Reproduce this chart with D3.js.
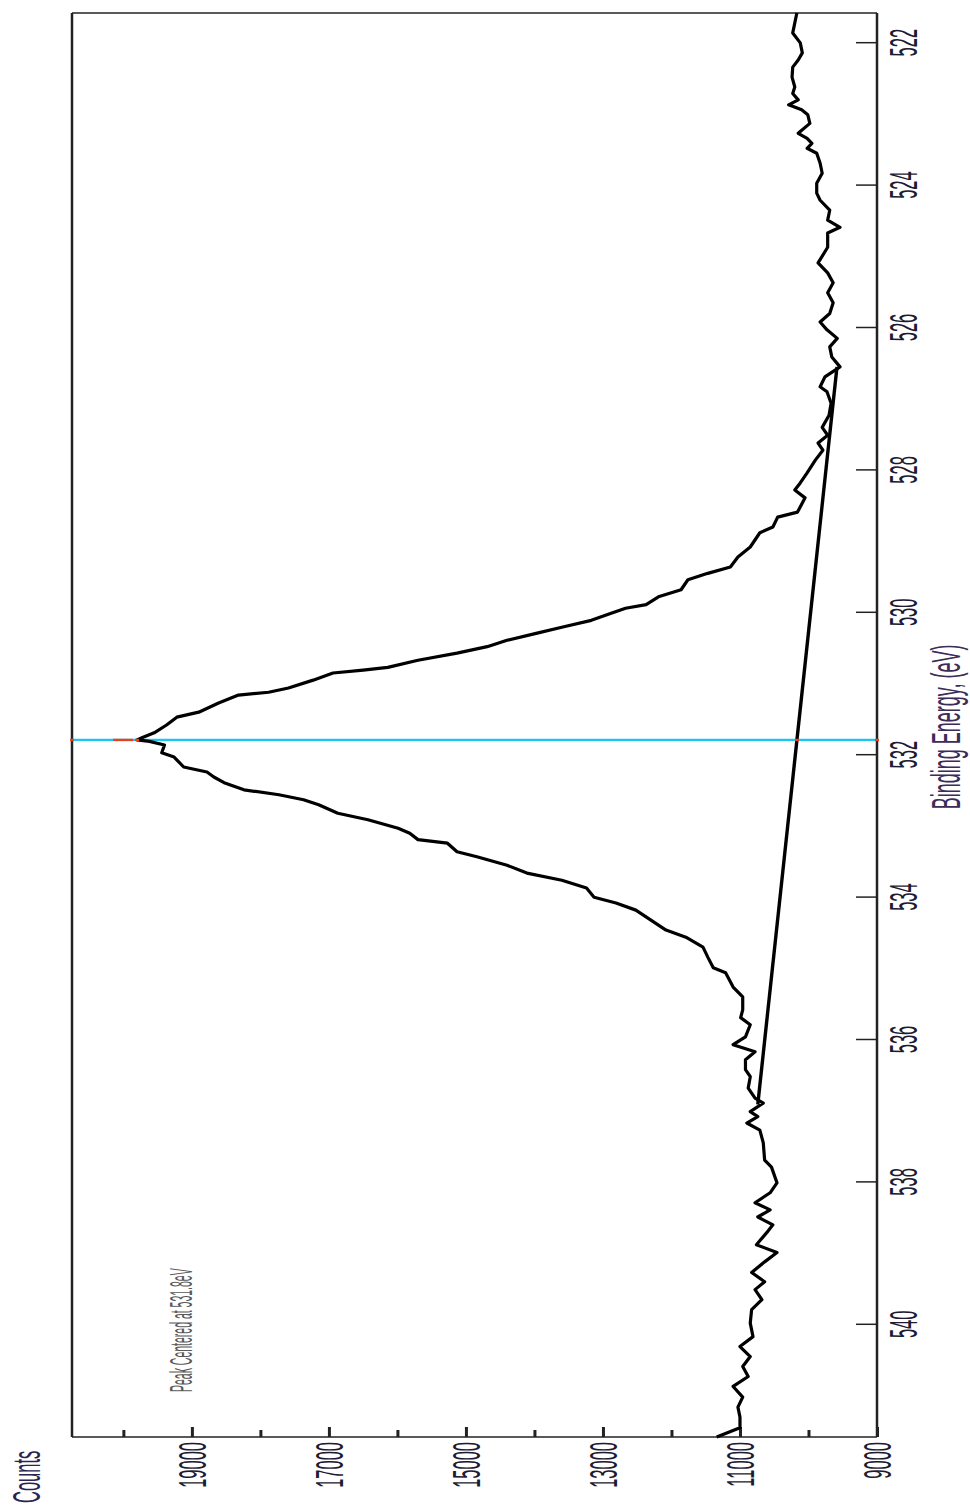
<!DOCTYPE html>
<html>
<head>
<meta charset="utf-8">
<script src="https://cdn.jsdelivr.net/npm/d3@7"></script>
<style>
  html, body { margin: 0; padding: 0; background: #fff; }
  svg { display: block; font-family: "Liberation Sans", Arial, sans-serif; }
</style>
</head>
<body>
<div id="graf"></div>
<script>
// O 1s spectrum, drawn turned on its side (energy runs down the right edge)
const energy = [521.59, 521.87, 522.01, 522.15, 522.25, 522.35, 522.49, 522.63, 522.72, 522.81,
  522.88, 522.95, 523.02, 523.14, 523.28, 523.35, 523.42, 523.49, 523.56, 523.70,
  523.84, 523.98, 524.12, 524.22, 524.36, 524.50, 524.60, 524.68, 524.88, 525.10,
  525.24, 525.38, 525.52, 525.66, 525.81, 525.93, 526.04, 526.16, 526.28, 526.42,
  526.56, 526.70, 526.84, 526.91, 527.07, 527.24, 527.41, 527.52, 527.63, 527.73,
  527.87, 528.05, 528.19, 528.29, 528.40, 528.60, 528.67, 528.81, 528.89, 529.09,
  529.23, 529.37, 529.46, 529.55, 529.69, 529.79, 529.90, 529.95, 530.02, 530.12,
  530.21, 530.30, 530.40, 530.49, 530.58, 530.68, 530.78, 530.82, 530.86, 530.96,
  531.07, 531.13, 531.17, 531.28, 531.41, 531.48, 531.59, 531.70, 531.77, 531.80,
  531.82, 531.87, 531.98, 532.04, 532.18, 532.25, 532.32, 532.40, 532.50, 532.57,
  532.64, 532.71, 532.83, 532.92, 533.04, 533.11, 533.20, 533.25, 533.37, 533.44,
  533.56, 533.67, 533.77, 533.88, 534.01, 534.09, 534.19, 534.33, 534.47, 534.57,
  534.71, 534.85, 535.00, 535.07, 535.27, 535.41, 535.59, 535.70, 535.80, 535.97,
  536.08, 536.18, 536.29, 536.43, 536.53, 536.69, 536.83, 536.90, 537.02, 537.09,
  537.18, 537.28, 537.46, 537.70, 537.80, 538.02, 538.16, 538.30, 538.40, 538.50,
  538.61, 538.72, 538.89, 539.00, 539.13, 539.28, 539.41, 539.52, 539.66, 539.80,
  539.99, 540.18, 540.32, 540.46, 540.60, 540.74, 540.88, 541.03, 541.17, 541.31,
  541.46, 541.59];

const counts = [10170, 10230, 10120, 10090, 10150, 10230, 10240, 10200, 10230, 10150,
  10290, 10100, 10010, 9980, 10150, 10020, 9950, 10020, 9880, 9830,
  9800, 9880, 9880, 9830, 9690, 9720, 9540, 9720, 9720, 9860,
  9720, 9640, 9720, 9640, 9690, 9830, 9730, 9580, 9690, 9660,
  9540, 9760, 9830, 9730, 9670, 9700, 9800, 9720, 9860, 9790,
  9900, 10020, 10120, 10200, 10050, 10160, 10450, 10520, 10710, 10850,
  11030, 11140, 11470, 11760, 11860, 12190, 12370, 12670, 12880, 13170,
  13570, 13960, 14400, 14690, 15130, 15700, 16140, 16500, 16940, 17230,
  17590, 17880, 18320, 18610, 18900, 19220, 19370, 19550, 19730, 19800,
  19620, 19400, 19440, 19260, 19120, 18780, 18680, 18530, 18240, 17730,
  17370, 17150, 16870, 16430, 15990, 15820, 15700, 15270, 15130, 14840,
  14400, 14110, 13600, 13240, 13130, 12810, 12520, 12300, 12080, 11790,
  11540, 11470, 11390, 11210, 11100, 10960, 10960, 10990, 10850, 10920,
  11100, 10780, 10920, 10920, 10850, 10880, 10780, 10660, 10850, 10740,
  10900, 10710, 10660, 10640, 10540, 10460, 10560, 10780, 10560, 10740,
  10520, 10610, 10760, 10460, 10640, 10830, 10640, 10780, 10680, 10830,
  10850, 10810, 11000, 10850, 10960, 10880, 11100, 10960, 11030, 11000,
  11000, 11340];

// linear background under the peak
const bgEnergy = [526.56, 536.92];
const bgCounts = [9584, 10740];

const peakEnergy = 531.8;
const peakMarkCounts = [19860, 20150];

const energyTicks = [522, 524, 526, 528, 530, 532, 534, 536, 538, 540];
const countTicks = [9000, 11000, 13000, 15000, 17000, 19000];
const countMinorTicks = [10000, 12000, 14000, 16000, 18000, 20000];

const W = 970, H = 1507;
const box = {left: 72, right: 877, top: 13, bottom: 1437};
const stretch = 2.3;   // text glyphs are drawn tall and narrow

let x = d3.scaleLinear().domain([9000, 20750]).range([box.right, box.left]);
let y = d3.scaleLinear().domain([521.59, 541.59]).range([box.top, box.bottom]);

let svg = d3.select("#graf").append("svg")
    .attr("width", W)
    .attr("height", H)
    .attr("viewBox", [0, 0, W, H]);

// energy axis, right side, ticks pointing in
const yAxis = svg.append("g")
    .attr("transform", `translate(${box.right},0)`)
    .call(d3.axisLeft(y).tickValues(energyTicks).tickSize(21).tickFormat(d3.format("d")));
yAxis.select(".domain").remove();
yAxis.selectAll(".tick line").attr("stroke", "#222").attr("stroke-width", 1.5);
yAxis.selectAll(".tick text")
    .attr("x", null).attr("dy", null)
    .attr("text-anchor", "middle")
    .attr("transform", `translate(40,0) rotate(-90) scale(1,${stretch})`)
    .attr("fill", "#1d1b33")
    .style("font-size", "16.5px");

// counts axis, bottom, major + minor ticks pointing up
const xAxis = svg.append("g")
    .attr("transform", `translate(0,${box.bottom})`)
    .call(d3.axisTop(x).tickValues(countTicks).tickSize(10).tickFormat(d3.format("d")));
xAxis.select(".domain").remove();
xAxis.selectAll(".tick line").attr("stroke", "#222").attr("stroke-width", 3);
xAxis.selectAll(".tick text")
    .attr("y", null).attr("dy", null)
    .attr("text-anchor", "end")
    .attr("transform", `translate(13.5,5) rotate(-90) scale(1,${stretch})`)
    .attr("fill", "#1d1b33")
    .style("font-size", "16.5px");

const xMinor = svg.append("g")
    .attr("transform", `translate(0,${box.bottom})`)
    .call(d3.axisTop(x).tickValues(countMinorTicks).tickSize(7).tickFormat(""));
xMinor.select(".domain").remove();
xMinor.selectAll(".tick line").attr("stroke", "#222").attr("stroke-width", 3);

// frame
svg.append("line").attr("x1", box.left).attr("x2", box.left).attr("y1", box.top).attr("y2", box.bottom)
    .attr("stroke", "#222").attr("stroke-width", 2.5);
svg.append("line").attr("x1", box.right).attr("x2", box.right).attr("y1", box.top).attr("y2", box.bottom)
    .attr("stroke", "#222").attr("stroke-width", 2.5);
svg.append("line").attr("x1", box.left).attr("x2", box.right).attr("y1", box.top).attr("y2", box.top)
    .attr("stroke", "#222").attr("stroke-width", 1.5);
svg.append("line").attr("x1", box.left).attr("x2", box.right).attr("y1", box.bottom).attr("y2", box.bottom)
    .attr("stroke", "#222").attr("stroke-width", 1.5);

// peak position marker
svg.append("line")
    .attr("x1", box.left).attr("x2", box.right)
    .attr("y1", y(peakEnergy)).attr("y2", y(peakEnergy))
    .attr("stroke", "#1cc6f2").attr("stroke-width", 2.2);

const points = energy.map((e, i) => [e, counts[i]]);

svg.append("path")
    .datum(points)
    .attr("fill", "none")
    .attr("stroke", "#000")
    .attr("stroke-width", 3.2)
    .attr("stroke-linejoin", "round")
    .attr("d", d3.line().x(d => x(d[1])).y(d => y(d[0])));

svg.append("path")
    .datum(bgEnergy.map((e, i) => [e, bgCounts[i]]))
    .attr("fill", "none")
    .attr("stroke", "#000")
    .attr("stroke-width", 3.4)
    .attr("d", d3.line().x(d => x(d[1])).y(d => y(d[0])));

// red marks where the peak line crosses things
const bgAtPeak = d3.scaleLinear().domain(bgEnergy).range(bgCounts)(peakEnergy);
svg.append("line")
    .attr("x1", x(peakMarkCounts[1])).attr("x2", x(peakMarkCounts[0]))
    .attr("y1", y(peakEnergy)).attr("y2", y(peakEnergy))
    .attr("stroke", "#e8401c").attr("stroke-width", 2.4);
svg.selectAll("rect.cross")
    .data([x.range()[1], x(bgAtPeak), x.range()[0], x(19800)])
    .join("rect")
    .attr("class", "cross")
    .attr("x", d => d - 2).attr("y", y(peakEnergy) - 1.2)
    .attr("width", 4).attr("height", 2.4)
    .attr("fill", "#e8401c");

// labels
svg.append("text")
    .attr("transform", `translate(960,${y(531.8) - 13}) rotate(-90) scale(1,${stretch})`)
    .attr("text-anchor", "middle")
    .attr("fill", "#3b2c58")
    .style("font-size", "18px")
    .text("Binding Energy, (eV)");

svg.append("text")
    .attr("transform", `translate(40,1503) rotate(-90) scale(1,${stretch})`)
    .attr("text-anchor", "start")
    .attr("fill", "#2a2550")
    .style("font-size", "16.5px")
    .text("Counts");

svg.append("text")
    .attr("transform", `translate(192,1392) rotate(-90) scale(1,2.9)`)
    .attr("text-anchor", "start")
    .attr("fill", "#3a3a3a")
    .attr("fill-opacity", 0.85)
    .style("font-size", "10.5px")
    .text("Peak Centered at 531.8eV");
</script>
</body>
</html>
